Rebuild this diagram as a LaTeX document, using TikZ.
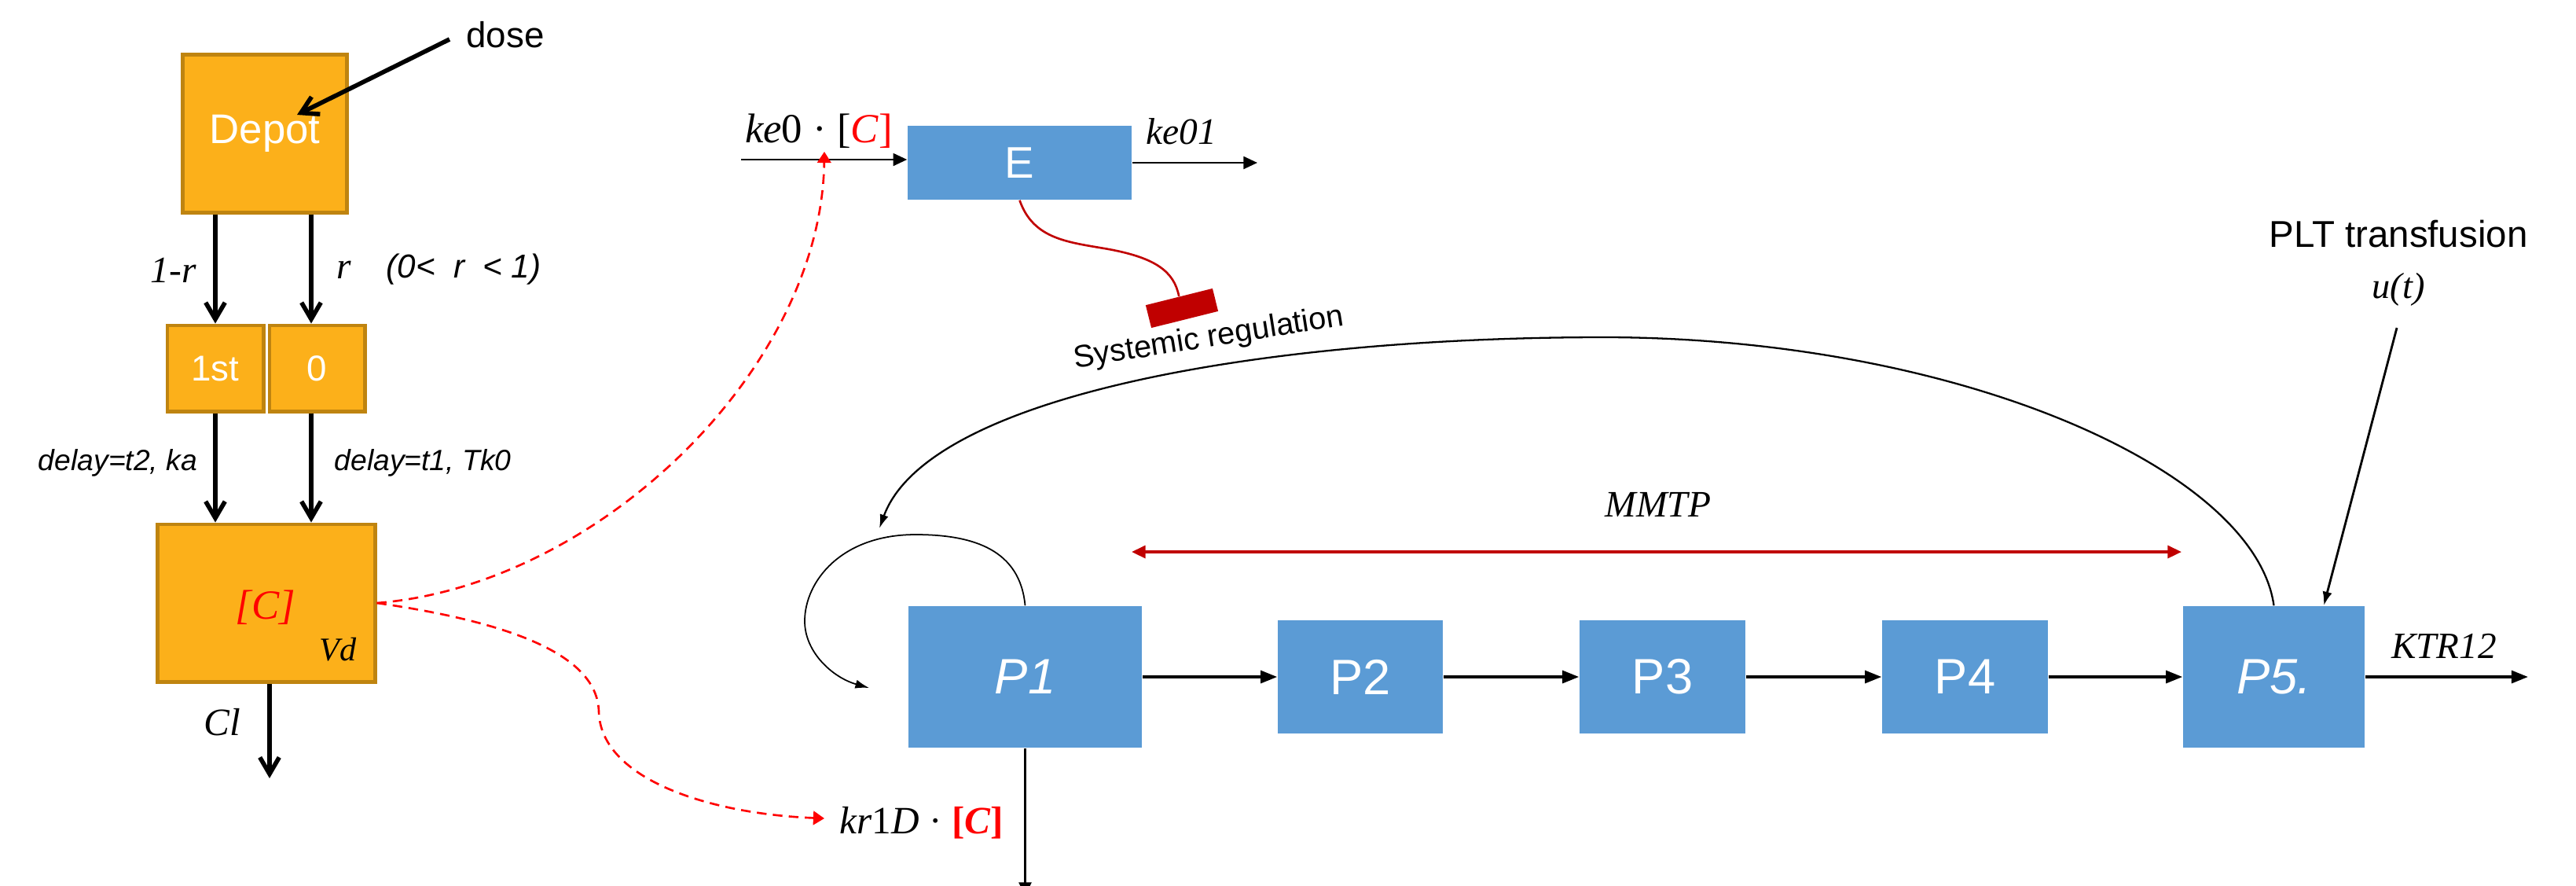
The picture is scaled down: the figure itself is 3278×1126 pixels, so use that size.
\documentclass[tikz,border=0pt]{standalone}
\usepackage{fontspec}
\setmainfont{Liberation Serif}
\setsansfont{Liberation Sans}
\newfontfamily\arialf{Liberation Sans}
\usetikzlibrary{arrows.meta,calc}
\definecolor{oyellow}{HTML}{FCB01A}
\definecolor{obrown}{HTML}{BF8410}
\definecolor{pblue}{HTML}{5B9BD5}
\definecolor{dred}{HTML}{C00000}
\newcommand{\myfs}[1]{\fontsize{#1}{#1}\selectfont}
\tikzset{
  obox/.style={draw=obrown, line width=1.4pt, fill=oyellow, inner sep=0pt, text=white, font=\arialf\myfs{13pt}},
  bbox/.style={fill=pblue, inner sep=0pt, text=white},
  thickarr/.style={line width=1.6pt, -{Straight Barb[length=6pt,width=7pt]}},
  chainarr/.style={line width=1pt, -{Triangle[length=6pt,width=4.5pt]}},
  thinarr/.style={line width=0.7pt, -{Triangle[length=5pt,width=4.5pt]}},
  reddash/.style={red, line width=0.75pt, dash pattern=on 3.5pt off 2.3pt, -{Triangle[length=4pt,width=5pt]}},
  curvarr/.style={line width=0.65pt, -{Latex[length=5pt,width=3.2pt]}},
}
\begin{document}
\begin{tikzpicture}[x=0.01cm,y=-0.01cm]
\useasboundingbox (0,0) rectangle (3278,1126);
% ---------- PK part ----------
\node[obox, minimum width=2.08cm, minimum height=2cm, font=\arialf\myfs{15pt}] (depot) at (337,170) {Depot};
\node[obox, minimum width=1.22cm, minimum height=1.09cm] (first) at (274,468.5) {1st};
\node[obox, minimum width=1.21cm, minimum height=1.09cm] (zero) at (403.5,468.5) {0};
\node[obox, minimum width=2.76cm, minimum height=2cm] (conc) at (339,767) {};
\node[font=\myfs{15pt}\itshape, text=red] (ctext) at (338,773) {[C]};
\node[font=\myfs{12pt}\itshape] (vd) at (430,826) {Vd};

\node[font=\arialf\myfs{13pt}] (dose) at (643,44) {dose};
\coordinate (dosestart) at (572,50);
\coordinate (dosetip) at (378,146);
\draw[thickarr] (dosestart) -- (dosetip);

\coordinate (zt) at ([xshift=-0.075cm]zero.north);
\coordinate (zb) at ([xshift=-0.075cm]zero.south);
\draw[thickarr] (first.north |- depot.south) -- (first.north);
\draw[thickarr] (zt |- depot.south) -- (zt);
\draw[thickarr] (first.south) -- (first.south |- conc.north);
\draw[thickarr] (zb) -- (zb |- conc.north);
\coordinate (clend) at (343,990);
\draw[thickarr] (conc.south -| clend) -- (clend);

\node[font=\myfs{13.5pt}\itshape] (lbl1r) at (221,344) {1-r};
\node[font=\myfs{13.5pt}\itshape] (lblr) at (438,343) {r};
\node[font=\arialf\myfs{12pt}\itshape] (lblrange) at (590,343) {(0<\ \ r\ \ <\ 1)};
\node[font=\arialf\myfs{10.6pt}\itshape] (d2) at (150,589) {delay=t2, ka};
\node[font=\arialf\myfs{10.6pt}\itshape] (d1) at (538,589) {delay=t1, Tk0};
\node[font=\myfs{14pt}\itshape] (cl) at (283,919) {Cl};

% ---------- Effect compartment ----------
\node[bbox, minimum width=2.85cm, minimum height=0.94cm, font=\arialf\myfs{16pt}] (E) at (1297.5,207) {E};
\coordinate (kin) at (943,203);
\draw[thinarr] (kin) -- (kin -| E.west);
\coordinate (kout) at (1600,207);
\draw[thinarr] (E.east) -- (kout);
\node[font=\myfs{15pt}] (ke0) at (1042,167) {\textit{ke}0\hspace{0.25em}·\hspace{0.25em}[\textcolor{red}{\textit{C}]}};
\node[font=\myfs{13.5pt}\itshape] (ke01) at (1503,167) {ke01};

\node[fill=dred, minimum width=0.876cm, minimum height=0.298cm, inner sep=0pt, rotate=14] (blocker) at (1504,392) {};
\draw[dred, line width=0.75pt] (E.south) .. controls (1315,305) and (1360,308) .. (1411,317) .. controls (1470,328) and (1494,345) .. (blocker.north);
\node[font=\arialf\myfs{11.3pt}, rotate=9, anchor=base] (sysreg) at (1540,441) {Systemic regulation};

% ---------- Platelet chain ----------
\node[bbox, minimum width=2.97cm, minimum height=1.8cm, font=\arialf\myfs{18pt}\itshape] (P1) at (1304.5,861) {P1};
\node[bbox, minimum width=2.10cm, minimum height=1.44cm, font=\arialf\myfs{18pt}] (P2) at (1731,861) {P2};
\node[bbox, minimum width=2.11cm, minimum height=1.44cm, font=\arialf\myfs{18pt}] (P3) at (2115.5,861) {P3};
\node[bbox, minimum width=2.11cm, minimum height=1.44cm, font=\arialf\myfs{18pt}] (P4) at (2500.5,861) {P4};
\node[bbox, minimum width=2.31cm, minimum height=1.8cm, font=\arialf\myfs{18pt}\itshape] (P5) at (2893.5,861) {P5.};
\draw[chainarr] (P1.east) -- (P2.west);
\draw[chainarr] (P2.east) -- (P3.west);
\draw[chainarr] (P3.east) -- (P4.west);
\draw[chainarr] (P4.east) -- (P5.west);
\coordinate (ktrend) at (3217,861);
\draw[chainarr] (P5.east) -- (ktrend);
\node[font=\myfs{13.4pt}\itshape] (ktr) at (3110,822) {KTR12};

\coordinate (mL) at (1440,702);
\coordinate (mR) at (2776,702);
\draw[dred, line width=1pt, {Triangle[length=5pt,width=4.5pt]}-{Triangle[length=5pt,width=4.5pt]}] (mL) -- (mR);
\node[font=\myfs{13.5pt}\itshape] (mmtp) at (2110,642) {MMTP};

\coordinate (fbend) at (1119,672);
\draw[curvarr] (P5.north) .. controls (2870,600) and (2500,432) .. (2050,429) .. controls (1600,428) and (1180,505) .. (fbend);

\coordinate (loopend) at (1106,875);
\draw[line width=0.5pt, -{Latex[length=5pt,width=3.2pt]}] (P1.north) .. controls (1298,700) and (1240,680) .. (1165,680) .. controls (1070,680) and (1024,740) .. (1024,790) .. controls (1024,830) and (1060,862) .. (loopend);

\begin{scope}
\clip (0,0) rectangle (3278,1126);
\coordinate (p1down) at (1301,1140);
\draw[line width=0.75pt, -{Triangle[length=5pt,width=4.5pt]}] (P1.south) -- (P1.south |- p1down);
\end{scope}

\node[font=\arialf\myfs{13.5pt}] (plt) at (3052,298) {PLT transfusion};
\node[font=\myfs{13.2pt}\itshape] (ut) at (3052,368) {u(t)};
\coordinate (pltstart) at (3050,417);
\coordinate (pltend) at ([xshift=0.635cm]P5.north);
\draw[line width=0.8pt, -{Latex[length=5pt,width=3.5pt]}] (pltstart) -- (pltend);

% ---------- drug effect links ----------
\node[font=\myfs{14pt}] (kr1d) at (1173,1047) {\textit{kr}1\textit{D}\hspace{0.25em}·\hspace{0.25em}\textcolor{red}{\textbf{[\textit{C}]}}};
\coordinate (ctip1) at (1049,193);
\coordinate (ctip2) at (1049,1041);
\draw[reddash] (conc.east) .. controls (760,745) and (1045,470) .. (ctip1);
\draw[reddash] (conc.east) .. controls (640,790) and (760,830) .. (762,905) .. controls (764,990) and (900,1035) .. (ctip2);
\end{tikzpicture}
\end{document}
